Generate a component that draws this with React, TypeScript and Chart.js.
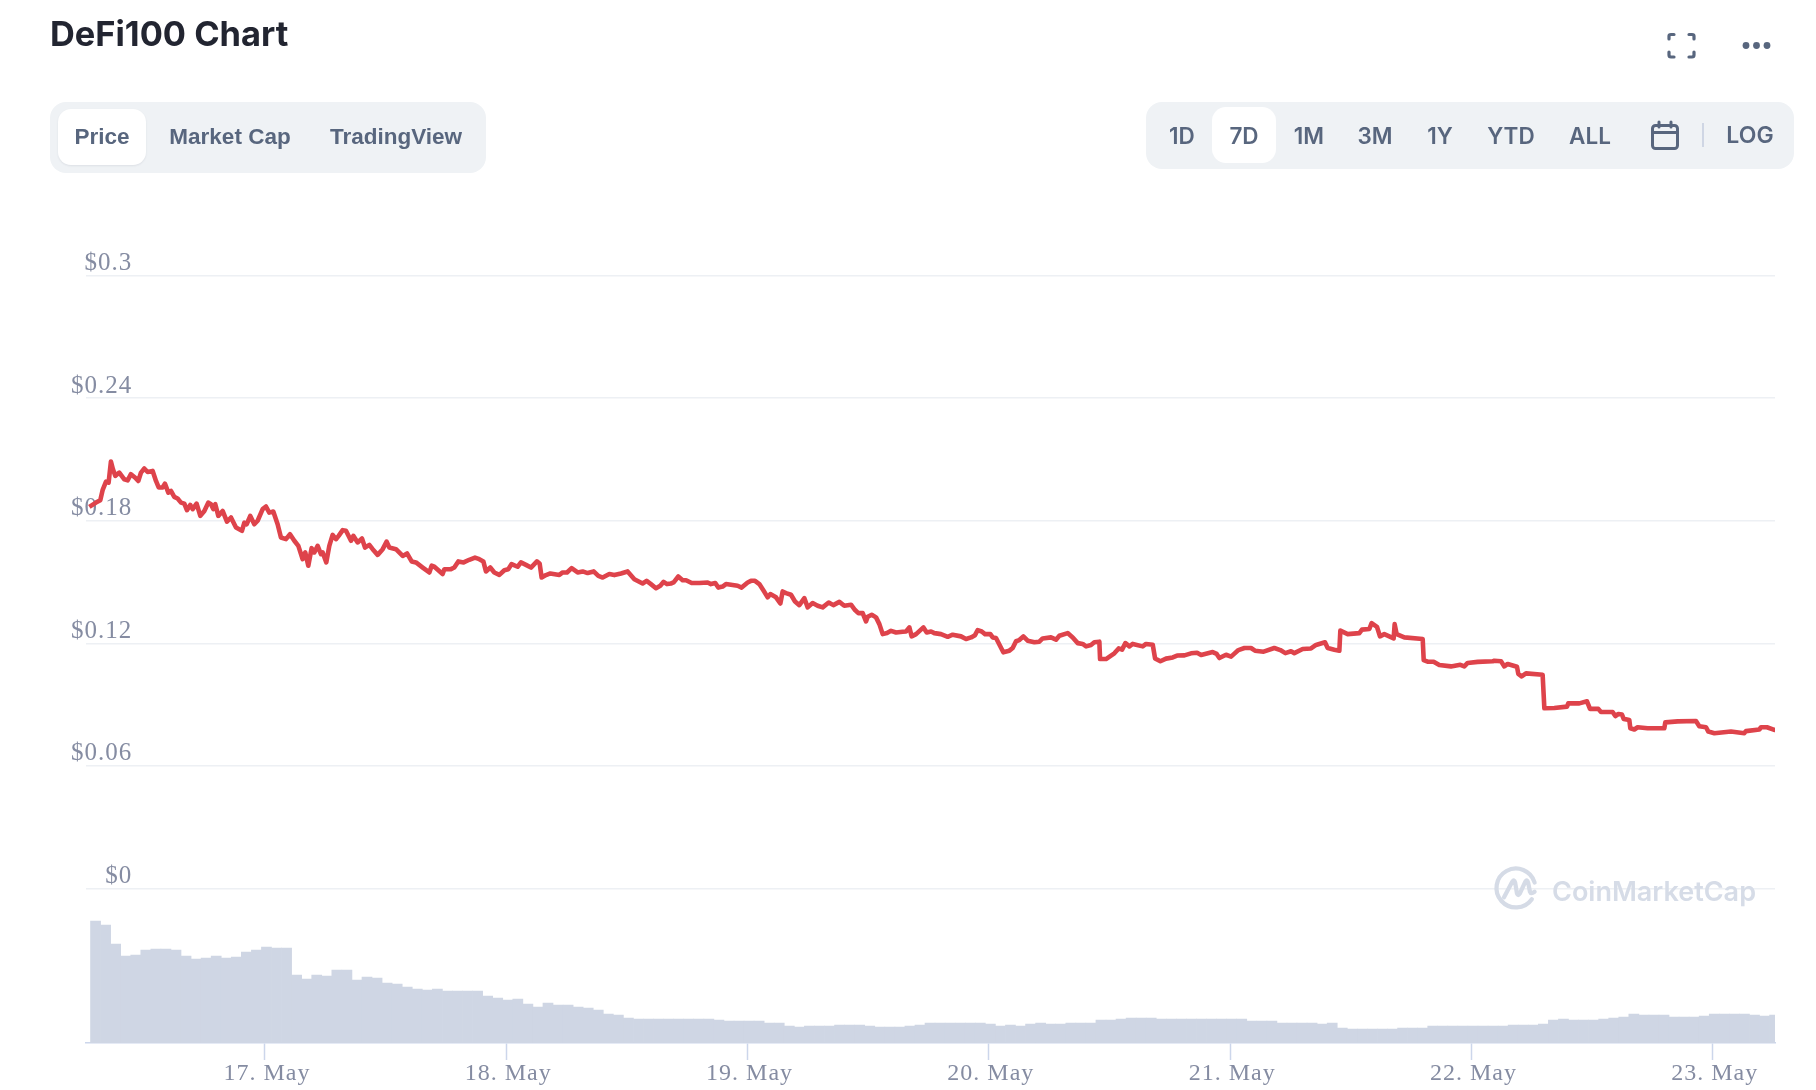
import React, { useEffect, useRef } from "react";
import { Chart, registerables } from "chart.js";

Chart.register(...registerables);

// Hours since 17 May 00:00
const priceHours = [
  -17.47,-16.81,-16.38,-16.15,-15.81,-15.55,-15.32,-15.12,-14.89,-14.49,-13.99,-13.66,-13.33,-12.93,-12.6,-12.33,-12,-11.67,-11.17,-10.84,-10.57,-10.18,-9.95,-9.61,-9.35,-9.02,-8.69,-8.35,-8.02,-7.76,-7.43,-7.19,-6.8,-6.43,-6.03,-5.63,-5.37,-5.14,-4.94,-4.64,-4.21,-3.78,-3.38,-2.88,-2.29,-2.05,-1.82,-1.46,-1.06,-0.73,-0.23,0.1,0.43,0.83,1.26,1.59,2.09,2.49,2.92,3.32,3.75,4.01,4.31,4.64,4.91,5.24,5.57,5.74,6.1,6.4,6.73,7.06,7.33,7.73,8.06,8.56,8.79,9.22,9.65,9.95,10.38,10.71,11.21,11.71,12.1,12.37,13.03,13.7,14.13,14.59,15.02,15.69,16.35,16.58,16.85,17.67,17.84,
  18.5,18.83,19.23,19.76,20.32,20.89,21.32,21.72,21.98,22.41,22.81,23.31,23.81,24.2,24.53,25.13,25.46,25.96,26.46,27.05,27.32,27.52,27.95,28.38,29.28,29.61,30.04,30.5,31.1,31.6,32.09,32.69,33.16,33.59,34.25,34.75,35.41,36.07,36.74,37.56,37.96,38.39,38.89,39.32,39.65,39.99,40.38,40.65,41.11,41.54,41.88,42.44,43.2,44.03,44.36,44.79,45.09,45.52,45.85,47.01,47.41,48.01,48.34,48.74,49.17,49.6,50,50.26,50.83,51.26,51.49,51.82,52.32,52.72,53.15,53.65,53.98,54.47,54.97,55.47,56.07,56.53,57.13,57.62,
  58.29,58.69,59.02,59.45,59.78,59.95,60.35,60.78,61.11,61.44,61.87,62.27,62.77,63.43,63.76,64.09,64.32,64.76,65.49,65.82,66.25,66.58,67.24,67.91,68.4,69.23,69.73,70.23,70.62,70.89,71.29,71.62,72.15,72.38,72.71,73.44,74.04,74.37,74.7,75.03,75.43,75.86,76.53,77.02,77.35,78.18,78.68,79.01,79.84,80.34,80.84,81.33,81.67,82.16,82.49,82.99,83.06,83.65,84.15,84.48,84.91,85.25,85.58,85.98,86.31,87.3,87.63,88.3,88.53,89.06,89.62,90.29,90.72,91.45,92.11,92.71,93.11,94.26,94.66,94.93,95.59,96.09,96.82,97.42,
  98.07,98.47,99.33,100.39,100.99,101.49,102.05,102.38,103.21,104.04,104.54,105.43,105.7,106.36,106.86,106.96,107.69,108.85,109.11,109.84,110.07,110.6,110.9,111.33,112.26,112.36,112.56,113.32,115.15,115.25,115.64,116.24,116.8,117.96,118.89,119.29,119.62,120.62,122.11,122.27,122.94,123.27,123.6,
  124.53,124.66,124.99,125.42,127.08,127.25,128.24,129.5,129.63,130.73,131.49,131.79,132.62,132.88,134.04,134.31,134.61,134.97,135.14,135.7,135.8,136.2,136.53,137.52,139.18,139.28,140.51,142.33,142.66,143.33,143.56,144.16,145.81,147.14,147.3,148.63,148.8,149.39,150.12,150.29,
];

const priceValues = [
  0.1868,0.1889,0.1901,0.195,0.1992,0.1987,0.209,0.2052,0.202,0.2036,0.2003,0.1998,0.2028,0.2012,0.1995,0.2036,0.2056,0.2039,0.2044,0.1995,0.1963,0.1963,0.1982,0.1938,0.1946,0.1917,0.1909,0.1889,0.1884,0.1852,0.1878,0.1857,0.1884,0.1824,0.1848,0.1889,0.1881,0.1857,0.1881,0.1824,0.1848,0.1796,0.1816,0.1767,0.1751,0.1791,0.1783,0.1824,0.1783,0.18,0.1857,0.187,0.184,0.1845,0.1783,0.1718,0.171,0.1734,0.1702,0.1677,0.1612,0.1645,0.158,0.1666,0.1645,0.1677,0.1637,0.1645,0.1596,0.1677,0.1731,0.171,0.1726,0.1754,0.1751,0.1702,0.1726,0.1694,0.1713,0.1669,0.1682,0.1661,0.1633,0.1661,0.1698,0.1669,0.1661,0.1628,0.164,0.1601,0.1596,0.1571,0.1547,0.158,0.1575,0.1539,0.1563,
  0.1563,0.1571,0.1601,0.1596,0.1609,0.162,0.1612,0.1601,0.1552,0.1571,0.1547,0.1535,0.1558,0.1563,0.1588,0.1575,0.1596,0.1584,0.1571,0.1601,0.1591,0.1522,0.1534,0.1542,0.1535,0.1547,0.1547,0.1568,0.1547,0.1552,0.1544,0.1552,0.153,0.1522,0.1539,0.1534,0.1542,0.1552,0.1514,0.1493,0.1506,0.149,0.147,0.1482,0.1501,0.149,0.1493,0.1498,0.1527,0.1509,0.1509,0.1495,0.1495,0.1498,0.149,0.1495,0.1473,0.1478,0.149,0.1482,0.1473,0.1498,0.1506,0.1506,0.149,0.1457,0.1425,0.1441,0.1425,0.1395,0.1454,0.1446,0.1438,0.1405,0.1387,0.1421,0.1376,0.1397,0.1384,0.1376,0.14,0.1387,0.1403,0.1384,
  0.1389,0.1363,0.1348,0.1348,0.1307,0.133,0.134,0.1327,0.1294,0.1245,0.125,0.1261,0.1253,0.1257,0.1258,0.1278,0.1234,0.1245,0.1278,0.1253,0.1258,0.125,0.1245,0.1232,0.1242,0.1234,0.1221,0.1229,0.124,0.1265,0.1258,0.1245,0.1245,0.1229,0.1226,0.1156,0.1164,0.1177,0.121,0.1216,0.1234,0.1213,0.1205,0.1208,0.1224,0.1229,0.1218,0.1237,0.125,0.1229,0.1201,0.1197,0.1185,0.1192,0.1205,0.1208,0.1123,0.1123,0.114,0.1151,0.1175,0.1169,0.1201,0.1185,0.1197,0.1185,0.1197,0.1193,0.1126,0.1112,0.1125,0.1131,0.114,0.1141,0.1151,0.1154,0.1143,0.1157,0.1148,0.1128,0.1144,0.1135,0.1167,0.1177,
  0.1177,0.1164,0.1159,0.1177,0.1167,0.1152,0.1161,0.1152,0.1172,0.1175,0.1192,0.1205,0.1177,0.1169,0.1164,0.1262,0.1245,0.125,0.1267,0.127,0.1299,0.1281,0.1234,0.1245,0.1224,0.1294,0.1245,0.1229,0.1221,0.1118,0.111,0.111,0.1094,0.1087,0.1095,0.1087,0.1104,0.1109,0.1112,0.1115,0.1112,0.1087,0.1099,
  0.1085,0.105,0.1038,0.1053,0.1046,0.0882,0.0883,0.089,0.0906,0.0906,0.0916,0.0879,0.0879,0.0864,0.0864,0.0844,0.0854,0.0851,0.083,0.0825,0.0784,0.0778,0.0789,0.0784,0.0784,0.0813,0.0818,0.082,0.0794,0.0789,0.0768,0.076,0.0768,0.076,0.077,0.0778,0.0789,0.0789,0.0776,0.0776,
];

// One volume bar per hour (relative units)
const volumeStartHour = -16.85;
const volumeValues = [
  122,118,99,87,88,93,94,94,93,87,
  84,85,87,85,86,91,93,96,95,95,
  68,64,68,67,73,73,63,66,65,60,
  59,56,54,53,54,52,52,52,52,47,
  45,43,44,39,36,40,38,38,36,35,
  33,29,28,25,24,24,24,24,24,24,
  24,24,23,22,22,22,22,20,20,17,
  16,17,17,17,18,18,18,17,16,16,
  16,17,18,20,20,20,20,20,20,19,
  17,18,17,19,20,19,19,20,20,20,
  23,23,24,25,25,25,24,24,24,24,
  24,24,24,24,24,22,22,22,20,20,
  20,20,19,20,15,14,14,14,14,14,
  15,15,15,17,17,17,17,17,17,17,
  17,18,18,18,19,23,24,23,23,23,
  24,25,26,29,28,28,28,26,26,26,
  27,29,29,29,29,28,27,28,
];

const xTickHours = [0, 24, 48, 72, 96, 120, 144];
const xTickLabels = ["17. May", "18. May", "19. May", "20. May", "21. May", "22. May", "23. May"];
const yTickValues = [0, 0.06, 0.12, 0.18, 0.24, 0.3];
const yTickLabels = ["$0", "$0.06", "$0.12", "$0.18", "$0.24", "$0.3"];
const leftTabs = ["Price", "Market Cap", "TradingView"];
const rangeTabs = ["1D", "7D", "1M", "3M", "1Y", "YTD", "ALL"];

const SLATE = "#58667e";
const abs = (l: number, t: number, w: number, h: number): React.CSSProperties => ({
  position: "absolute", left: l, top: t, width: w, height: h,
});

function Label({ cx, cy, text, font, size, weight }: { cx: number; cy: number; text: string; font: string; size: number; weight: number }) {
  return (
    <div style={{
      position: "absolute", left: cx - 100, top: cy - 20, width: 200, height: 40, lineHeight: "40px",
      textAlign: "center", fontFamily: font, fontSize: size, fontWeight: weight, color: SLATE,
    }}>{text}</div>
  );
}

export default function App() {
  const ref = useRef<HTMLCanvasElement | null>(null);

  useEffect(() => {
    if (!ref.current) return;
    const chart = new Chart(ref.current, {
      type: "line",
      data: {
        datasets: [
          {
            type: "line",
            data: priceHours.map((h, i) => ({ x: h, y: priceValues[i] })),
            yAxisID: "y",
            borderColor: "#de434b",
            borderWidth: 4.6,
            borderJoinStyle: "round",
            pointRadius: 0,
            tension: 0,
            order: 0,
          },
          {
            type: "bar",
            data: volumeValues.map((v, i) => ({ x: volumeStartHour + i, y: v })),
            yAxisID: "vol",
            backgroundColor: "#cfd6e4",
            borderWidth: 0,
            barPercentage: 1,
            categoryPercentage: 1,
            grouped: false,
            order: 1,
          },
        ],
      } as any,
      options: {
        animation: false,
        responsive: false,
        devicePixelRatio: 1,
        layout: { padding: { top: 275.7, right: 41, left: 0, bottom: 0 } },
        plugins: { legend: { display: false }, tooltip: { enabled: false } },
        scales: {
          x: {
            type: "linear",
            min: -17.8,
            max: 150.19,
            offset: false,
            afterBuildTicks: (s: any) => { s.ticks = xTickHours.map((value) => ({ value })); },
            afterFit: (s: any) => { s.height = 47; },
            grid: { offset: false, drawOnChartArea: false, drawTicks: true, tickLength: 17, tickColor: "#ccd6eb", tickWidth: 1.5 },
            border: { display: true, color: "#ccd6eb", width: 1.5 },
            ticks: {
              autoSkip: false, maxRotation: 0, minRotation: 0, padding: -1, labelOffset: 2,
              color: "#858ca2", font: { family: "'Liberation Serif', serif", size: 24 },
              callback: (v: any) => xTickLabels[xTickHours.indexOf(Number(v))] ?? "",
            },
          },
          y: {
            type: "linear",
            position: "left",
            min: -0.0757,
            max: 0.3,
            afterBuildTicks: (s: any) => { s.ticks = yTickValues.map((value) => ({ value })); },
            afterFit: (s: any) => { s.width = 86; },
            grid: { color: "#edf0f4", lineWidth: 1.5, drawTicks: false },
            border: { display: false },
            ticks: {
              autoSkip: false, mirror: true, crossAlign: "far", padding: -10, labelOffset: -12,
              color: "#858ca2", font: { family: "'Liberation Serif', serif", size: 25 },
              callback: (v: any) => yTickLabels[yTickValues.indexOf(Number(v))] ?? "",
            },
          },
          vol: { type: "linear", display: false, min: 0, max: 767.3 },
        },
      } as any,
      plugins: [{
        id: "spacing",
        beforeDraw(c: any) { c.ctx.letterSpacing = "1px"; },
      }],
    });
    return () => chart.destroy();
  }, []);

  const rangeCentres = [1182, 1244, 1309, 1375, 1440, 1511, 1590];

  return (
    <div style={{ position: "absolute", left: 0, top: 0, width: 1816, height: 1090, background: "#fff", overflow: "hidden" }}>
      <canvas ref={ref} width={1816} height={1090} style={{ ...abs(0, 0, 1816, 1090), display: "block" }} />

      <div style={{ position: "absolute", left: 50, top: 10, lineHeight: "48px", fontFamily: "Inter", fontWeight: 700, fontSize: 34.4, color: "#222531", whiteSpace: "nowrap" }}>DeFi100 Chart</div>

      <svg style={abs(1660, 25, 120, 40)} viewBox="0 0 120 40" fill="none" stroke={SLATE} strokeWidth="3.2" strokeLinecap="round" strokeLinejoin="round">
        <path d="M9 14 V11 Q9 9.5 11 9.5 H14" />
        <path d="M29 9.5 H32 Q34 9.5 34 11 V14" />
        <path d="M9 27 V30 Q9 32 11 32 H14" />
        <path d="M29 32 H32 Q34 32 34 30 V27" />
        <circle cx="86" cy="20.5" r="3.4" fill={SLATE} stroke="none" />
        <circle cx="96.5" cy="20.5" r="3.4" fill={SLATE} stroke="none" />
        <circle cx="107" cy="20.5" r="3.4" fill={SLATE} stroke="none" />
      </svg>

      <div style={{ ...abs(50, 102, 436, 71), background: "#eff2f5", borderRadius: 16 }} />
      <div style={{ ...abs(58, 109, 88, 56), background: "#fff", borderRadius: 13, boxShadow: "0 1px 2px rgba(88,102,126,0.12)" }} />
      {leftTabs.map((t, i) => (
        <Label key={t} cx={[102, 230, 396][i]} cy={137} text={t} font="'Liberation Sans'" size={22.5} weight={700} />
      ))}

      <div style={{ ...abs(1146, 102, 648, 67), background: "#eff2f5", borderRadius: 16 }} />
      <div style={{ ...abs(1212, 107, 64, 56), background: "#fff", borderRadius: 14 }} />
      {rangeTabs.map((t, i) => (
        <Label key={t} cx={rangeCentres[i]} cy={136} text={t} font="Inter" size={22.5} weight={600} />
      ))}
      <svg style={abs(1648, 118, 34, 34)} viewBox="0 0 34 34" fill="none" stroke={SLATE} strokeWidth="3" strokeLinecap="round">
        <rect x="4.5" y="7.5" width="25" height="23" rx="3" />
        <path d="M4.5 14.5 H29.5" />
        <path d="M11 4 V9 M23 4 V9" />
      </svg>
      <div style={{ ...abs(1702, 123, 2, 24), background: "#cfd6e4" }} />
      <Label cx={1750} cy={135} text="LOG" font="Inter" size={23} weight={600} />

      <svg style={abs(1492, 864, 50, 50)} viewBox="0 0 54 54" fill="none" stroke="#d5dbe6" strokeWidth="4.6" strokeLinecap="round" strokeLinejoin="round">
        <path d="M43 38 A21 21 0 1 1 46 20" />
        <path d="M13 36 L22 19 Q24 16 25 20 L27 32 Q28 35 30 32 L36 19 Q38 16 39 20 L41 30 Q42 33 46 30" />
      </svg>
      <div style={{ position: "absolute", left: 1552, top: 870, lineHeight: "44px", fontFamily: "Inter", fontWeight: 600, fontSize: 27, color: "#d6dce7", whiteSpace: "nowrap" }}>CoinMarketCap</div>
    </div>
  );
}
